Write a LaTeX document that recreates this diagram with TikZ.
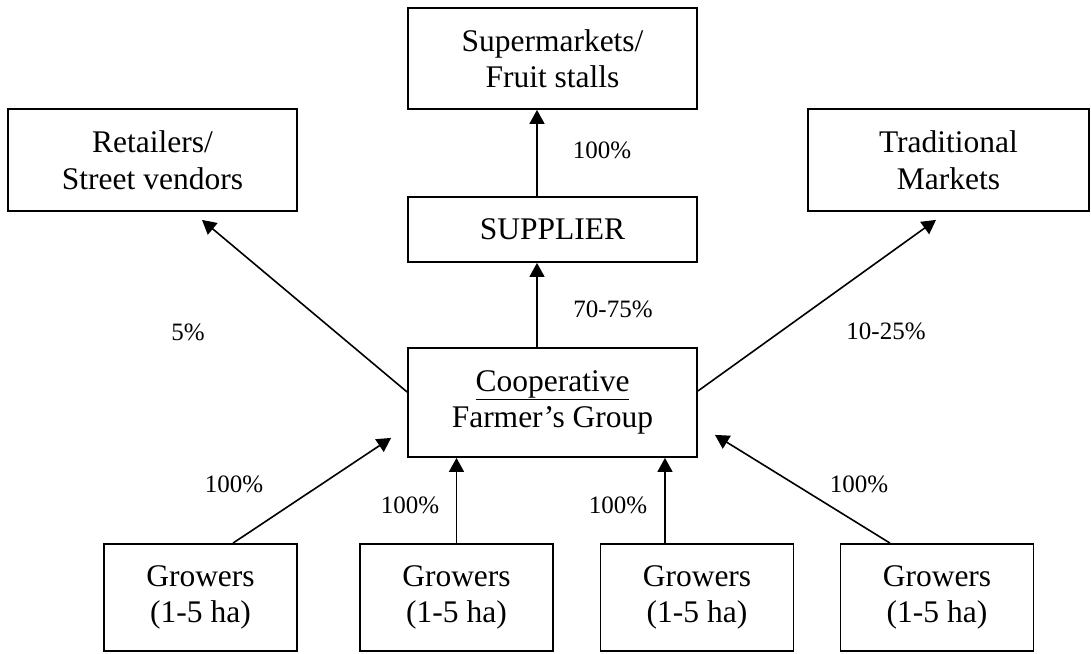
\documentclass[tikz,border=0pt]{standalone}
\usepackage{fontspec}
\setmainfont{Liberation Serif}
\usetikzlibrary{arrows.meta}
\begin{document}
\begin{tikzpicture}[x=1pt,y=-1pt,
  box/.style={draw=black, line width=1.8pt, rectangle, inner sep=0pt, align=center,
              font=\fontsize{31.5}{36.5}\selectfont},
  pct/.style={inner sep=0pt, font=\fontsize{25}{28}\selectfont},
  flow/.style={line width=1.6pt, -{Triangle[length=14pt,width=15pt]}}]
\fill[white] (0,0) rectangle (1091,653);
\useasboundingbox (0,0) rectangle (1091,653);

% outlets
\node[box, minimum width=289pt, minimum height=101pt] (sup)  at (552.5,58.5) {Supermarkets/\\Fruit stalls};
\node[box, minimum width=289pt, minimum height=102pt] (ret)  at (152.5,160)  {Retailers/\\Street vendors};
\node[box, minimum width=281pt, minimum height=102pt] (trad) at (948.5,160)  {Traditional\\Markets};

% intermediaries
\node[box, minimum width=289pt, minimum height=65pt]  (sply) at (552.5,229.5) {SUPPLIER};
\node[box, minimum width=289pt, minimum height=109pt] (coop) at (552.5,402.5) {\underline{Cooperative}\\Farmer’s Group};

% growers
\node[box, minimum width=193pt, minimum height=107pt] (g1) at (200.5,597.5) {Growers\\(1-5 ha)};
\node[box, minimum width=193pt, minimum height=107pt] (g2) at (456.5,597.5) {Growers\\(1-5 ha)};
\node[box, minimum width=193pt, minimum height=107pt] (g3) at (697,597.5)   {Growers\\(1-5 ha)};
\node[box, minimum width=193pt, minimum height=107pt] (g4) at (937,597.5)   {Growers\\(1-5 ha)};

% flows
\draw[flow] ([xshift=-15.5pt]sply.north) -- ([xshift=-15.5pt]sup.south);
\draw[flow] ([xshift=-15.5pt]coop.north) -- ([xshift=-15.5pt]sply.south);
\draw[flow] ([shift={(0,-10.5)}]coop.west) -- ([shift={(49.5,8)}]ret.south);
\draw[flow] ([shift={(0,-11.5)}]coop.east) -- ([shift={(-12.5,8)}]trad.south);
\draw[flow] ([shift={(32.5,0)}]g1.north) -- ([shift={(-16,-20)}]coop.south west);
\draw[flow] (g2.north) -- (g2.north |- coop.south);
\coordinate (g3top) at ([xshift=-32pt]g3.north);
\draw[flow] (g3top) -- (g3top |- coop.south);
\draw[flow] ([shift={(-47,0)}]g4.north) -- ([shift={(17,-23)}]coop.south east);

% shares
\node[pct] (p1) at (602,150) {100\%};
\node[pct] (p2) at (613,309) {70-75\%};
\node[pct] (p3) at (188,332) {5\%};
\node[pct] (p4) at (886,331) {10-25\%};
\node[pct] (p5) at (234,484) {100\%};
\node[pct] (p6) at (410,505) {100\%};
\node[pct] (p7) at (618,505) {100\%};
\node[pct] (p8) at (859,484) {100\%};
\end{tikzpicture}
\end{document}
